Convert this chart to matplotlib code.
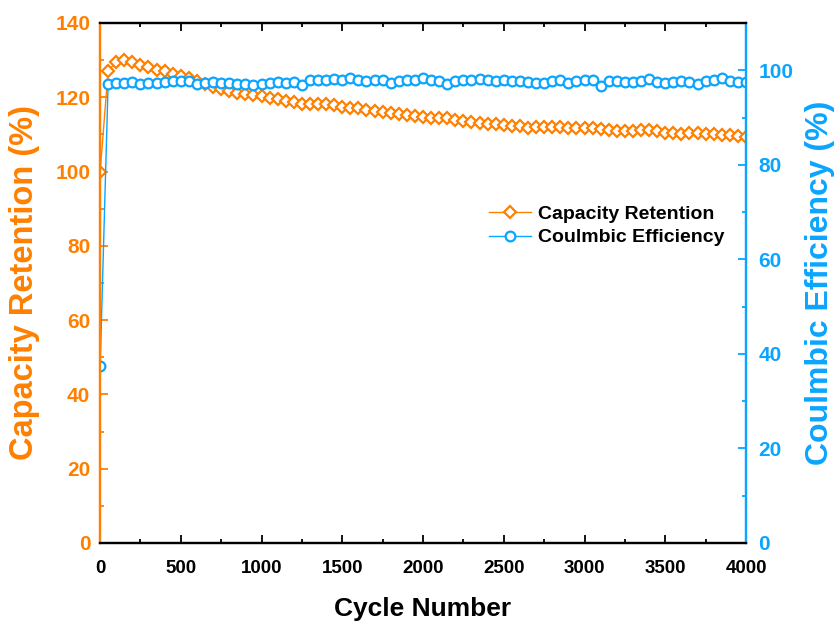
import numpy as np
import matplotlib
matplotlib.use('Agg')
import matplotlib.pyplot as plt
from matplotlib.ticker import MultipleLocator

plt.rcParams['font.family'] = ['Liberation Sans', 'DejaVu Sans']
plt.rcParams['font.weight'] = 'bold'

# cycle numbers (first point is cycle 1, then every 50 cycles)
cycles = np.r_[1, np.arange(50, 4001, 50)]

retention = [100.0, 127.0, 129.6, 130.0, 129.6, 128.8, 128.1, 127.4, 127.0, 126.4,
             125.8, 125.2, 124.4, 123.6, 122.9, 122.2, 121.7, 121.2, 120.8, 120.5,
             120.3, 119.9, 119.5, 119.1, 118.7, 118.3, 118.1, 118.1, 118.3, 118.0,
             117.5, 117.1, 117.0, 116.6, 116.3, 116.1, 115.8, 115.5, 115.1, 114.9,
             114.8, 114.4, 114.3, 114.4, 113.9, 113.6, 113.4, 113.0, 112.8, 112.7,
             112.6, 112.4, 112.2, 111.8, 112.1, 111.9, 112.0, 111.9, 111.7, 111.8,
             111.7, 111.6, 111.4, 111.1, 110.9, 110.8, 110.8, 111.1, 111.2, 110.8,
             110.5, 110.3, 110.1, 110.3, 110.3, 110.2, 110.0, 109.8, 109.8, 109.6,
             109.4]

efficiency = [37.5, 97.0, 97.3, 97.3, 97.5, 97.0, 97.3, 97.3, 97.5, 97.7,
              97.8, 97.7, 97.1, 97.4, 97.5, 97.3, 97.3, 97.1, 97.0, 96.9,
              97.2, 97.4, 97.5, 97.3, 97.6, 96.9, 98.0, 97.9, 97.9, 98.1,
              97.9, 98.4, 97.9, 97.7, 97.9, 97.9, 97.4, 97.7, 97.9, 97.9,
              98.4, 97.9, 97.7, 97.2, 97.7, 97.9, 97.9, 98.1, 97.9, 97.7,
              97.9, 97.7, 97.8, 97.5, 97.3, 97.4, 97.8, 97.9, 97.4, 97.8,
              98.0, 97.9, 96.6, 97.8, 97.8, 97.5, 97.5, 97.8, 98.2, 97.5,
              97.4, 97.5, 97.8, 97.5, 97.2, 97.8, 97.9, 98.4, 97.8, 97.5,
              97.6]

orange = '#FF8000'
blue = '#0AA5FF'

fig = plt.figure(figsize=(8.34, 6.24), dpi=100)
ax = fig.add_axes([100/834, 81/624, 646/834, 520/624])
ax2 = ax.twinx()

l1, = ax.plot(cycles, retention, color=orange, lw=1.0, marker='D', ms=6.5,
              mfc='white', mec=orange, mew=1.6, label='Capacity Retention')
l2, = ax2.plot(cycles, efficiency, color=blue, lw=1.0, marker='o', ms=7,
               mfc='white', mec=blue, mew=1.6, label='Coulmbic Efficiency')

ax.set_xlim(0, 4000)
ax.set_ylim(0, 140)
ax2.set_ylim(0, 110)

ax.xaxis.set_major_locator(MultipleLocator(500))
ax.xaxis.set_minor_locator(MultipleLocator(250))
ax.yaxis.set_major_locator(MultipleLocator(20))
ax.yaxis.set_minor_locator(MultipleLocator(10))
ax2.yaxis.set_major_locator(MultipleLocator(20))
ax2.yaxis.set_minor_locator(MultipleLocator(10))

for a in (ax, ax2):
    for s in a.spines.values():
        s.set_linewidth(1.6)
    a.spines['left'].set_color(orange)
    a.spines['right'].set_color(blue)

ax.tick_params(axis='x', which='both', direction='in', top=True, width=1.3,
               labelsize=13.5, pad=12)
ax.tick_params(axis='x', which='major', length=6)
ax.tick_params(axis='x', which='minor', length=3)
ax.tick_params(axis='y', which='both', direction='in', color=orange, labelcolor=orange,
               width=1.3, labelsize=15, pad=7)
ax.tick_params(axis='y', which='major', length=6)
ax.tick_params(axis='y', which='minor', length=3)
ax2.tick_params(axis='y', which='both', direction='in', color=blue, labelcolor=blue,
                width=1.3, labelsize=15, pad=9)
ax2.tick_params(axis='y', which='major', length=6)
ax2.tick_params(axis='y', which='minor', length=3)

# narrow face for the cycle tick labels
plt.setp(ax.get_xticklabels(), family=['Liberation Sans Narrow', 'Liberation Sans'])

ax.set_xlabel('Cycle Number', fontsize=19, fontweight='bold')
ax.set_ylabel('Capacity Retention (%)', fontsize=23.5, fontweight='bold', color=orange)
ax2.set_ylabel('Coulmbic Efficiency (%)', fontsize=23, fontweight='bold', color=blue)
ax.xaxis.set_label_coords(0.5, -0.104)
ax.yaxis.set_label_coords(-0.093, 0.5)
ax2.yaxis.set_label_coords(1.091, 0.5)

ax2.legend(handles=[l1, l2], loc='upper left', bbox_to_anchor=(0.575, 0.683),
           frameon=False, fontsize=14, handlelength=2.15, labelspacing=0.3,
           handletextpad=0.36)

fig.savefig('out.png', dpi=100)
